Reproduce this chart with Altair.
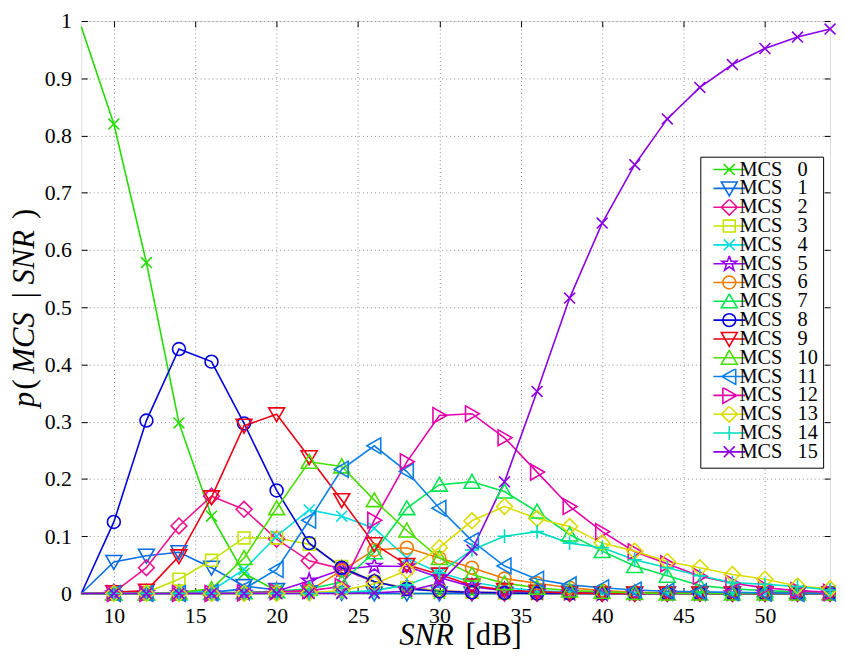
import altair as alt
import pandas as pd

snr = [8, 10, 12, 14, 16, 18, 20, 22, 24, 26, 28, 30, 32, 34, 36, 38, 40, 42, 44, 46, 48, 50, 52, 54]

mcs0 = [0.99, 0.82, 0.578, 0.298, 0.135, 0.035, 0.005, 0.001, 0, 0, 0, 0, 0, 0, 0, 0, 0, 0, 0, 0, 0, 0, 0, 0]
mcs1 = [0, 0.055, 0.066, 0.072, 0.045, 0.013, 0.006, 0.002, 0.001, 0, 0, 0, 0, 0, 0, 0, 0, 0, 0, 0, 0, 0, 0, 0]
mcs2 = [0, 0.002, 0.045, 0.118, 0.17, 0.147, 0.095, 0.057, 0.043, 0.02, 0.01, 0.005, 0.002, 0.001, 0, 0, 0, 0, 0, 0, 0, 0, 0, 0]
mcs3 = [0, 0, 0.002, 0.025, 0.058, 0.097, 0.097, 0.086, 0.047, 0.02, 0.01, 0.005, 0.002, 0.001, 0, 0, 0, 0, 0, 0, 0, 0, 0, 0]
mcs4 = [0, 0, 0, 0.001, 0.005, 0.042, 0.1, 0.146, 0.135, 0.114, 0.062, 0.036, 0.02, 0.01, 0.005, 0.002, 0.001, 0, 0, 0, 0, 0, 0, 0]
mcs5 = [0, 0, 0, 0, 0, 0.001, 0.004, 0.022, 0.042, 0.048, 0.047, 0.028, 0.012, 0.005, 0.002, 0.001, 0, 0, 0, 0, 0, 0, 0, 0]
mcs6 = [0, 0, 0, 0, 0, 0, 0.001, 0.005, 0.04, 0.076, 0.08, 0.062, 0.045, 0.026, 0.018, 0.01, 0.005, 0.002, 0.001, 0, 0, 0, 0, 0]
mcs7 = [0, 0, 0, 0, 0.001, 0.002, 0.004, 0.008, 0.02, 0.072, 0.149, 0.19, 0.195, 0.178, 0.143, 0.103, 0.074, 0.048, 0.031, 0.014, 0.008, 0.005, 0.003, 0.001]
mcs8 = [0, 0.125, 0.302, 0.427, 0.405, 0.297, 0.18, 0.088, 0.045, 0.021, 0.008, 0.004, 0.002, 0.001, 0, 0, 0, 0, 0, 0, 0, 0, 0, 0]
mcs9 = [0, 0.002, 0.005, 0.065, 0.168, 0.293, 0.313, 0.238, 0.163, 0.086, 0.05, 0.033, 0.014, 0.006, 0.003, 0.001, 0, 0, 0, 0, 0, 0, 0, 0]
mcs10 = [0, 0, 0, 0.002, 0.008, 0.062, 0.149, 0.23, 0.222, 0.163, 0.11, 0.062, 0.033, 0.018, 0.01, 0.005, 0.003, 0.001, 0, 0, 0, 0, 0, 0]
mcs11 = [0, 0, 0, 0, 0.002, 0.008, 0.042, 0.128, 0.217, 0.258, 0.213, 0.149, 0.092, 0.048, 0.025, 0.015, 0.01, 0.006, 0.004, 0.003, 0.002, 0.001, 0, 0]
mcs12 = [0, 0, 0, 0, 0, 0.001, 0.003, 0.005, 0.012, 0.128, 0.23, 0.311, 0.314, 0.272, 0.212, 0.152, 0.108, 0.073, 0.052, 0.03, 0.018, 0.01, 0.005, 0.002]
mcs13 = [0, 0, 0, 0, 0, 0, 0, 0.001, 0.005, 0.017, 0.04, 0.08, 0.127, 0.152, 0.131, 0.117, 0.088, 0.074, 0.056, 0.045, 0.033, 0.025, 0.013, 0.008]
mcs14 = [0, 0, 0, 0, 0, 0, 0, 0, 0.002, 0.005, 0.015, 0.036, 0.076, 0.1, 0.108, 0.088, 0.08, 0.059, 0.045, 0.031, 0.019, 0.016, 0.012, 0.006]
mcs15 = [0, 0, 0, 0, 0, 0, 0, 0, 0, 0.001, 0.004, 0.018, 0.076, 0.195, 0.353, 0.516, 0.647, 0.749, 0.829, 0.884, 0.924, 0.952, 0.972, 0.986]

series = [mcs0, mcs1, mcs2, mcs3, mcs4, mcs5, mcs6, mcs7,
          mcs8, mcs9, mcs10, mcs11, mcs12, mcs13, mcs14, mcs15]
names = ["MCS %d" % i for i in range(16)]
colors = ["#22dd00", "#0a6ae6", "#ee1190", "#c4e400", "#00dede", "#9400ee",
          "#ee7a00", "#00e650", "#0000dd", "#ee0014", "#48de00", "#0a7ee8",
          "#e600aa", "#dcdc00", "#00dcc0", "#8a00e6"]

x_ticks = [10, 15, 20, 25, 30, 35, 40, 45, 50]
y_ticks = [0, 0.1, 0.2, 0.3, 0.4, 0.5, 0.6, 0.7, 0.8, 0.9, 1]

# marker glyphs (path units = pixels when size=4)
XM = "M-5.5,-5.5L5.5,5.5M-5.5,5.5L5.5,-5.5"
PLUS = "M-7,0L7,0M0,-7L0,7"
CIRC = "M6.5,0A6.5,6.5 0 1,1 -6.5,0A6.5,6.5 0 1,1 6.5,0"
SQ = "M-6,-6L6,-6L6,6L-6,6Z"
DIAM = "M0,-8L8,0L0,8L-8,0Z"
TD = "M-8,-6.5L8,-6.5L0,7.5Z"
TU = "M-8,6.5L8,6.5L0,-7.5Z"
TR = "M-6.5,-8L-6.5,8L7.5,0Z"
TL = "M6.5,-8L6.5,8L-7.5,0Z"
STAR = "M0,-8L1.8,-2.5L7.6,-2.5L2.9,0.9L4.7,6.5L0,3.1L-4.7,6.5L-2.9,0.9L-7.6,-2.5L-1.8,-2.5Z"
markers = [XM, TD, DIAM, SQ, XM, STAR, CIRC, TU, CIRC, TD, TU, TL, TR, DIAM, PLUS, XM]
legend_markers = ["M-16,0L16,0" + m for m in markers]

rows = []
for name, vals in zip(names, series):
    if len(vals) != len(snr):
        raise ValueError(name)
    for x, v in zip(snr, vals):
        rows.append({"snr": x, "p": v, "mcs": name})
df = pd.DataFrame(rows)

FONT = "Liberation Serif"
xs = alt.Scale(domain=[8, 54], nice=False, zero=False)
ys = alt.Scale(domain=[0, 1], nice=False, zero=False)
cs = alt.Scale(domain=names, range=colors)

main_x_axis = alt.Axis(values=x_ticks, title=None, ticks=False, domain=False, grid=True,
                       labelFont=FONT, labelFontSize=22, labelColor="black", labelPadding=12,
                       gridColor="#8c8c8c", gridDash=[1, 3], gridWidth=1, orient="bottom")
main_y_axis = alt.Axis(values=y_ticks, title=None, ticks=False, domain=False, grid=True, format="~g",
                       labelFont=FONT, labelFontSize=22, labelColor="black", labelPadding=10,
                       gridColor="#8c8c8c", gridDash=[1, 3], gridWidth=1, orient="left")


def tick_axis(values, orient):
    return alt.Axis(values=values, title=None, labels=False, domain=False, grid=False,
                    ticks=True, tickSize=6, tickColor="black", tickWidth=1,
                    offset=-6, orient=orient)


lines = alt.Chart(df).mark_line(strokeWidth=1.6).encode(
    x=alt.X("snr:Q", scale=xs, axis=main_x_axis),
    y=alt.Y("p:Q", scale=ys, axis=main_y_axis),
    color=alt.Color("mcs:N", scale=cs, legend=None),
)

points = alt.Chart(df).mark_point(filled=False, strokeWidth=1.6, size=4, opacity=1).encode(
    x=alt.X("snr:Q", scale=xs, axis=tick_axis(x_ticks, "top")),
    y=alt.Y("p:Q", scale=ys, axis=tick_axis(y_ticks, "right")),
    color=alt.Color("mcs:N", scale=cs, legend=None),
    shape=alt.Shape("mcs:N", scale=alt.Scale(domain=names, range=markers), legend=None),
).transform_filter("datum.snr > 8")

leg = alt.Legend(title=None, orient="none", legendX=625, legendY=137,
                 strokeColor="black", fillColor="white", padding=5, cornerRadius=0,
                 labelFont=FONT, labelFontSize=20.5, labelColor="black",
                 labelExpr="replace(datum.label, ' ', '\u00a0\u00a0\u00a0')",
                 symbolSize=4, symbolStrokeWidth=1.6, symbolOffset=14, labelOffset=0,
                 clipHeight=16, rowPadding=-8, symbolFillColor="transparent")

legend_layer = alt.Chart(df).mark_point(filled=False, strokeWidth=1.6, opacity=1).encode(
    x=alt.X("snr:Q", scale=xs, axis=tick_axis(x_ticks, "bottom")),
    y=alt.Y("p:Q", scale=ys, axis=tick_axis(y_ticks, "left")),
    color=alt.Color("mcs:N", scale=cs, legend=leg),
    shape=alt.Shape("mcs:N", scale=alt.Scale(domain=names, range=legend_markers), legend=leg),
).transform_filter("false")


def txt(s, x, y, italic, angle=0, align="left"):
    return alt.Chart(alt.Data(values=[{}])).mark_text(
        text=s, font=FONT, fontSize=31, fontStyle="italic" if italic else "normal",
        align=align, baseline="alphabetic", angle=angle, color="black"
    ).encode(x=alt.value(x), y=alt.value(y))


titles = [
    txt("SNR", 376, 630, True, align="right"),
    txt("[dB]", 388, 630, False),
    txt("p", -48, 390, True, angle=270),
    txt("(", -48, 372, False, angle=270),
    txt("MCS", -48, 356, True, angle=270),
    txt("|", -48, 280, False, angle=270),
    txt("SNR", -48, 266, True, angle=270),
    txt(")", -48, 200, False, angle=270),
]

chart = alt.layer(lines, points, legend_layer, *titles).resolve_scale(
    color="independent", shape="independent"
).resolve_axis(x="independent", y="independent").properties(
    width=756, height=578,
    autosize=alt.AutoSizeParams(type="none"),
    padding={"left": 74, "top": 10, "right": 6, "bottom": 62},
).configure_view(stroke="black", strokeWidth=1, fill="white").configure(background="white")

chart.save("out.html", embed_options={"renderer": "svg", "actions": False})
